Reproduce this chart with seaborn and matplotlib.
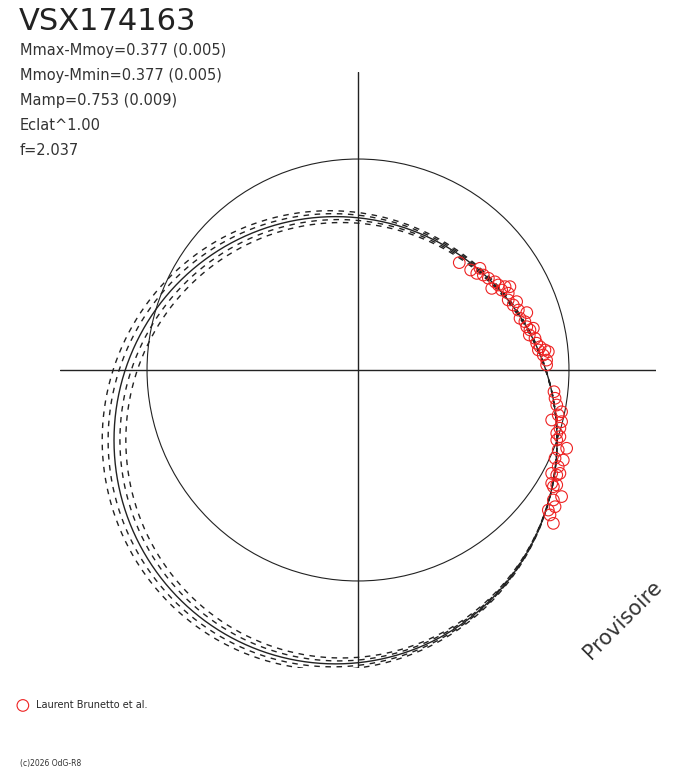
import numpy as np
import pandas as pd
import seaborn as sns
import matplotlib.pyplot as plt

# observations, in units of the mean amplitude (reference circle = 1)
obs_x = [0.480, 0.534, 0.578, 0.563, 0.594, 0.618, 0.634, 0.649, 0.665, 0.681,
         0.697, 0.712, 0.720, 0.712, 0.736, 0.752, 0.760, 0.800, 0.768, 0.791,
         0.800, 0.815, 0.831, 0.812, 0.839, 0.847, 0.863, 0.855, 0.886, 0.902,
         0.878, 0.894, 0.894,
         0.929, 0.934, 0.942, 0.965, 0.949, 0.918, 0.965, 0.957, 0.942, 0.957,
         0.942, 0.989, 0.949, 0.973, 0.934, 0.949, 0.918, 0.942, 0.957, 0.918,
         0.926, 0.942, 0.965, 0.926, 0.934, 0.902, 0.910, 0.926]
obs_y = [0.509, 0.474, 0.482, 0.458, 0.450, 0.435, 0.387, 0.418, 0.403, 0.379,
         0.395, 0.364, 0.395, 0.332, 0.308, 0.324, 0.284, 0.272, 0.245, 0.229,
         0.205, 0.190, 0.198, 0.166, 0.150, 0.127, 0.110, 0.095, 0.095, 0.087,
         0.071, 0.047, 0.024,
         -0.103, -0.134, -0.166, -0.198, -0.213, -0.237, -0.245, -0.276, -0.300, -0.316,
         -0.332, -0.371, -0.379, -0.427, -0.418, -0.458, -0.490, -0.498, -0.490, -0.537,
         -0.553, -0.545, -0.600, -0.616, -0.648, -0.664, -0.687, -0.727]

# fitted loop and its envelope
fit_cx = -0.1065
fit_cy = -0.333
fit_rx = 1.050
fit_ry = 1.060
env_offset = [-0.028, -0.014, 0.0, 0.014, 0.028]
env_style = ['dash', 'dash', 'solid', 'dash', 'dash']

stats = ['Mmax-Mmoy=0.377 (0.005)', 'Mmoy-Mmin=0.377 (0.005)',
         'Mamp=0.753 (0.009)', 'Eclat^1.00', 'f=2.037']

lim = 1.4125

sns.set_style('white')
plt.rcParams['font.family'] = ['DejaVu Sans']

W, H = 688, 768
fig = plt.figure(figsize=(W / 100, H / 100), dpi=100)
ax = fig.add_axes([60 / W, 100 / H, 596 / W, 596 / H])

# envelope curves
t = np.linspace(0, 2 * np.pi, 721)
for d, st in zip(env_offset, env_style):
    cdf = pd.DataFrame({'x': fit_cx - d + (fit_rx + d) * np.cos(t),
                        'y': fit_cy + (fit_ry + d) * np.sin(t)})
    ls = '-' if st == 'solid' else (0, (4, 4))
    sns.lineplot(data=cdf, x='x', y='y', sort=False, estimator=None, ax=ax,
                 color='#222222', linewidth=1.0, linestyle=ls)

# mean amplitude circle and axes
ax.add_patch(plt.Circle((0, 0), 1.0, fill=False, color='#222222', lw=0.8))
ax.axhline(0, color='#222222', lw=1)
ax.axvline(0, color='#222222', lw=1)

obs = pd.DataFrame({'x': obs_x, 'y': obs_y})
sns.scatterplot(data=obs, x='x', y='y', ax=ax, marker='o', s=70,
                facecolors='none', edgecolor='#ee2222', linewidth=0.8,
                label='Laurent Brunetto et al.', zorder=5)

ax.set_xlim(-lim, lim)
ax.set_ylim(-lim, lim)
ax.set_aspect('equal')
ax.axis('off')

leg = ax.legend(loc='center left', bbox_to_anchor=(18 / W, 1 - 705 / H),
                bbox_transform=fig.transFigure, frameon=False,
                handlelength=1.0, handletextpad=0.8, borderpad=0,
                borderaxespad=0, fontsize=7, markerscale=1.0)

fig.text(19 / W, 1 - 30 / H, 'VSX174163', fontsize=22, color='#222222',
         va='baseline')
for i, s in enumerate(stats):
    fig.text(20 / W, 1 - (55 + 25 * i) / H, s, fontsize=10.5, color='#333333',
             va='baseline')

fig.text(623 / W, 1 - 620 / H, 'Provisoire', fontsize=15, color='#333333',
         rotation=45, ha='center', va='center')
fig.text(20 / W, 1 - 766 / H, '(c)2026 OdG-R8', fontsize=5.5, color='#333333',
         va='baseline')

fig.savefig('out.png', dpi=100, facecolor='white')
